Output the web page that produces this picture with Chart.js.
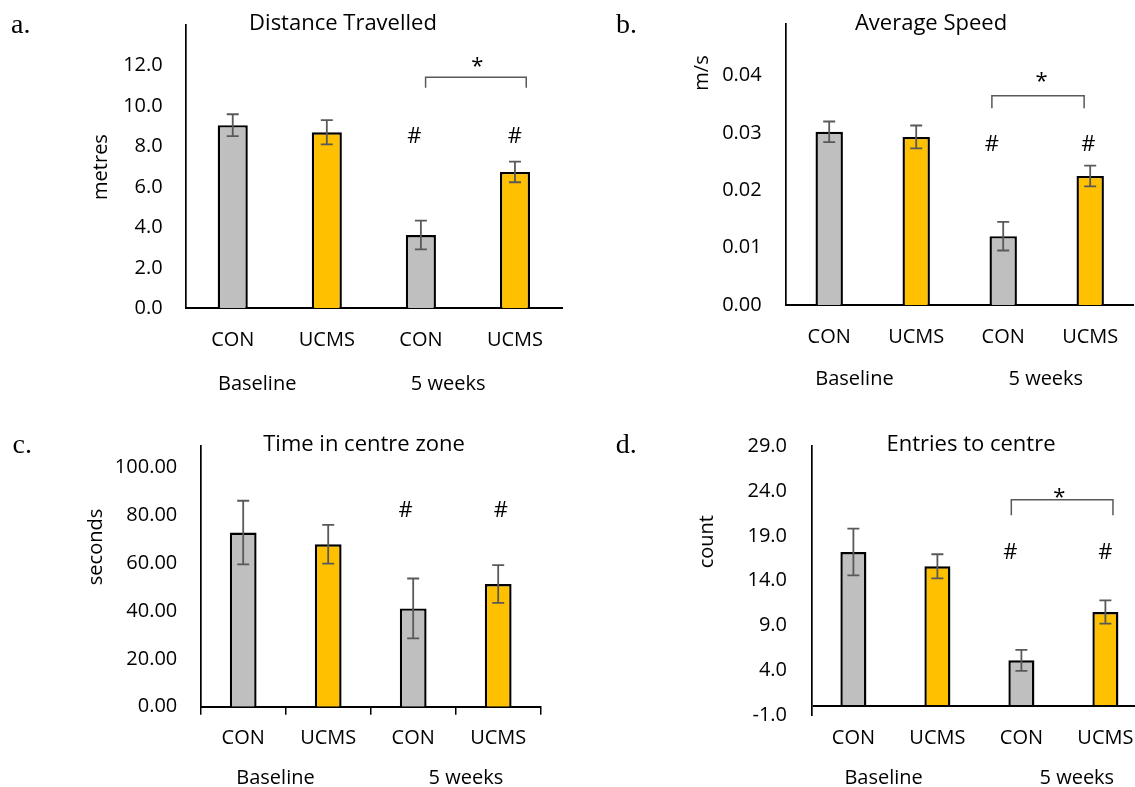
<!DOCTYPE html>
<html>
<head>
<meta charset="utf-8">
<script src="https://cdn.jsdelivr.net/npm/chart.js@4.4.0/dist/chart.umd.min.js"></script>
<style>
	body { margin: 0; width: 1135px; height: 787px; overflow: hidden; background: #fff; position: relative; }
	canvas { position: absolute; }
</style>
</head>
<body>
<canvas id="distanceChart" width="570" height="400" style="left:0;top:0"></canvas>
<canvas id="speedChart" width="555" height="400" style="left:580px;top:0"></canvas>
<canvas id="timeChart" width="570" height="387" style="left:0;top:400px"></canvas>
<canvas id="entriesChart" width="600" height="387" style="left:580px;top:400px"></canvas>
<script>
// Nhóm / nhãn trục
const categories = ['CON', 'UCMS', 'CON', 'UCMS'];
const groupLabels = ['Baseline', '5 weeks'];
const barColors = ['#BFBFBF', '#FFC000', '#BFBFBF', '#FFC000'];

// a. Distance Travelled (metres)
const distanceValues = [9.05, 8.70, 3.62, 6.74];
const distanceErrors = [0.54, 0.60, 0.71, 0.51];
const distanceTicks = [0, 2, 4, 6, 8, 10, 12];

// b. Average Speed (m/s)
const speedValues = [0.0302, 0.0293, 0.0120, 0.0225];
const speedErrors = [0.0018, 0.0020, 0.0025, 0.0018];
const speedTicks = [0, 0.01, 0.02, 0.03, 0.04];

// c. Time in centre zone (seconds)
const timeValues = [72.8, 67.9, 41.1, 51.3];
const timeErrors = [13.3, 8.1, 12.5, 7.9];
const timeTicks = [0, 20, 40, 60, 80, 100];

// d. Entries to centre (count)
const entriesValues = [17.2, 15.6, 5.1, 10.5];
const entriesErrors = [2.6, 1.35, 1.17, 1.3];
const entriesTicks = [-1, 0, 4, 9, 14, 19, 24, 29];

Chart.defaults.font.family = "'Open Sans', sans-serif";
Chart.defaults.font.size = 20;
Chart.defaults.color = '#000';

// vẽ thanh sai số, chữ, dấu #, dấu *
function decor(p) {
	return {
		id: 'decor',
		afterDatasetsDraw(chart) {
			const ctx = chart.ctx;
			const y = chart.scales.y;
			ctx.save();
			ctx.strokeStyle = '#595959';
			ctx.lineWidth = 1.8;
			chart.getDatasetMeta(0).data.forEach((bar, i) => {
				const v = p.values[i];
				const top = y.getPixelForValue(v + p.errors[i]);
				const bot = y.getPixelForValue(v - p.errors[i]);
				ctx.beginPath();
				ctx.moveTo(bar.x, top); ctx.lineTo(bar.x, bot);
				ctx.moveTo(bar.x - 6, top); ctx.lineTo(bar.x + 6, top);
				ctx.moveTo(bar.x - 6, bot); ctx.lineTo(bar.x + 6, bot);
				ctx.stroke();
			});
			ctx.restore();
		},
		afterDraw(chart) {
			const ctx = chart.ctx;
			const x = chart.scales.x, y = chart.scales.y;
			ctx.save();
			ctx.fillStyle = '#000';
			ctx.textBaseline = 'alphabetic';

			// chữ cái của panel
			ctx.font = "28px 'Liberation Serif', serif";
			ctx.textAlign = 'left';
			ctx.fillText(p.letter, p.letterX, p.letterY);

			// tiêu đề
			ctx.font = "22px 'Open Sans', sans-serif";
			ctx.textAlign = 'center';
			ctx.fillText(p.title, p.titleX, p.titleY);

			// tên nhóm
			ctx.font = "20px 'Open Sans', sans-serif";
			groupLabels.forEach((g, i) => {
				ctx.fillText(g, x.getPixelForValue(p.groupX[i]), p.groupY);
			});

			// tiêu đề trục y
			ctx.save();
			ctx.translate(p.yTitleX, p.yTitleY);
			ctx.rotate(-Math.PI / 2);
			ctx.fillText(p.yTitle, 0, 0);
			ctx.restore();

			// dấu #
			ctx.font = "22px 'Open Sans', sans-serif";
			p.hashX.forEach(hx => {
				ctx.fillText('#', x.getPixelForValue(hx), y.getPixelForValue(p.hashY));
			});

			// ngoặc và dấu *
			if (p.bracket) {
				const b = p.bracket;
				const x1 = x.getPixelForValue(b.x1), x2 = x.getPixelForValue(b.x2);
				const yl = y.getPixelForValue(b.y), yb = y.getPixelForValue(b.legY);
				ctx.strokeStyle = '#595959';
				ctx.lineWidth = 1.5;
				ctx.beginPath();
				ctx.moveTo(x1, yb); ctx.lineTo(x1, yl); ctx.lineTo(x2, yl); ctx.lineTo(x2, yb);
				ctx.stroke();
				ctx.fillText('*', x.getPixelForValue(b.starX), y.getPixelForValue(b.starY));
			}
			ctx.restore();
		}
	};
}

function veBieuDo(canvasId, p) {
	const ctx = document.getElementById(canvasId).getContext('2d');
	return new Chart(ctx, {
		type: 'bar',
		data: {
			labels: categories,
			datasets: [{
				data: p.values,
				backgroundColor: barColors,
				borderColor: '#000',
				borderWidth: 2.4,
				barPercentage: p.barPct,
				categoryPercentage: 1
			}]
		},
		options: {
			responsive: false,
			animation: false,
			layout: { padding: { left: 0, right: p.padRight, top: p.padTop, bottom: 0 } },
			plugins: { legend: { display: false }, tooltip: { enabled: false } },
			scales: {
				x: {
					afterFit: s => { s.height = p.xHeight; s.paddingLeft = 0; s.paddingRight = 0; },
					border: { display: !p.zeroLine, color: '#000', width: 2 },
					grid: p.xTicks
						? { display: true, drawOnChartArea: false, drawTicks: true, tickLength: 8, color: '#000', lineWidth: 1.5 }
						: { display: false, drawTicks: false },
					ticks: { padding: p.xPad, autoSkip: false, maxRotation: 0 }
				},
				y: {
					min: p.min,
					max: p.max,
					afterBuildTicks: s => { s.ticks = p.ticks.map(v => ({ value: v })); },
					afterFit: s => { s.width = p.yWidth; s.paddingTop = 0; s.paddingBottom = 0; },
					border: { display: true, color: '#000', width: 1.7 },
					// trục x của panel d nằm ở giá trị 0
					grid: p.zeroLine
						? { display: true, drawTicks: false, lineWidth: 2, color: c => c.tick && c.tick.value === 0 ? '#000' : 'rgba(0,0,0,0)' }
						: { display: false, drawTicks: false },
					ticks: {
						padding: p.yPad,
						callback: v => (p.zeroLine && v === 0) ? '' : v.toFixed(p.decimals)
					}
				}
			}
		},
		plugins: [decor(p)]
	});
}

veBieuDo('distanceChart', {
	values: distanceValues, errors: distanceErrors, ticks: distanceTicks,
	min: 0, max: 14, decimals: 1,
	yWidth: 185.7, padTop: 25, padRight: 8, xHeight: 91.7, xPad: 20, yPad: 23, barPct: 0.32,
	letter: 'a.', letterX: 11, letterY: 33,
	title: 'Distance Travelled', titleX: 343, titleY: 30,
	yTitle: 'metres', yTitleX: 107, yTitleY: 167,
	groupX: [0.26, 2.29], groupY: 390,
	hashX: [1.93, 3.0], hashY: 8.18,
	bracket: { x1: 2.05, x2: 3.12, y: 11.42, legY: 10.9, starX: 2.6, starY: 11.64 }
});

veBieuDo('speedChart', {
	values: speedValues, errors: speedErrors, ticks: speedTicks,
	min: 0, max: 0.049, decimals: 2,
	yWidth: 205.7, padTop: 24, padRight: 1.3, xHeight: 95, xPad: 20, yPad: 24, barPct: 0.315,
	letter: 'b.', letterX: 36, letterY: 33,
	title: 'Average Speed', titleX: 351, titleY: 30,
	yTitle: 'm/s', yTitleX: 128, yTitleY: 73,
	groupX: [0.29, 2.49], groupY: 385,
	hashX: [1.87, 2.98], hashY: 0.02685,
	bracket: { x1: 1.87, x2: 2.93, y: 0.03648, legY: 0.03433, starX: 2.44, starY: 0.0378 }
});

veBieuDo('timeChart', {
	values: timeValues, errors: timeErrors, ticks: timeTicks,
	min: 0, max: 109, decimals: 2,
	yWidth: 200.7, padTop: 46, padRight: 29.3, xHeight: 80.3, xPad: 11.6, yPad: 23.4, barPct: 0.315,
	xTicks: true,
	letter: 'c.', letterX: 12.5, letterY: 53,
	title: 'Time in centre zone', titleX: 364, titleY: 50.7,
	yTitle: 'seconds', yTitleX: 101.8, yTitleY: 147,
	groupX: [0.38, 2.62], groupY: 384,
	hashX: [1.91, 3.03], hashY: 79.5
});

veBieuDo('entriesChart', {
	values: entriesValues, errors: entriesErrors, ticks: entriesTicks,
	min: -1, max: 29, decimals: 1,
	yWidth: 231.4, padTop: 46.3, padRight: 32.6, xHeight: 72, xPad: 11.3, yPad: 24.4, barPct: 0.31,
	zeroLine: true,
	letter: 'd.', letterX: 35.7, letterY: 53,
	title: 'Entries to centre', titleX: 391, titleY: 50.7,
	yTitle: 'count', yTitleX: 133, yTitleY: 141.7,
	groupX: [0.36, 2.66], groupY: 384,
	hashX: [1.87, 3.0], hashY: 16.4,
	bracket: { x1: 1.88, x2: 3.09, y: 23.04, legY: 21.29, starX: 2.45, starY: 22.6 }
});
</script>
</body>
</html>
